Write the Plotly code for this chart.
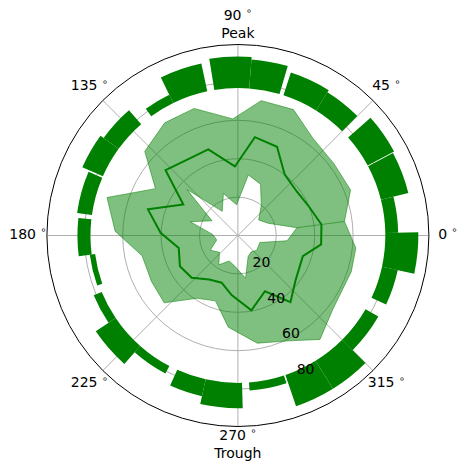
import plotly.graph_objects as go

# ---- bar ring (outer histogram-like bars) ----
bin_start = [1, 14, 28.3, 45, 58, 73.6, 85.6, 102, 116, 131, 144, 156.9, 173.7, 187.4,
             202.5, 214, 228.5, 245.7, 257.4, 274.3, 288.8, 301.8, 315, 335, 347.8]
bin_end = [14, 28, 41.6, 58, 72, 85.6, 99.2, 116, 126, 144, 156.3, 172, 187.4, 199.6,
           214, 228.5, 242.3, 257.4, 271.6, 288.2, 301.8, 315, 330, 347.8, 361]
bar_base = [76.8, 76.8, 76.8, 76.8, 76.8, 76.8, 76.8, 76.8, 76.8, 76.8, 76.8, 76.8, 76.8, 75.0,
            76.8, 76.8, 76.8, 76.8, 76.8, 76.8, 76.8, 76.8, 76.8, 76.8, 76.8]
bar_top = [83.5, 91.5, 92.4, 88.0, 89.3, 92.0, 93.3, 91.6, 81.6, 86.5, 88.5, 84.6, 83.6, 77.8,
           81.3, 89.3, 81.2, 85.8, 90.0, 81.0, 94.0, 94.0, 84.5, 85.2, 94.0]

# ---- band (fill between lower/upper) and mean line ----
phase_deg = [7.5, 22, 36.8, 52.4, 66.2, 80.2, 92.5, 109, 123, 137.9, 150.4, 163.8, 178,
             192, 208, 222.4, 237, 251, 264, 280.2, 295.9, 308.3, 322.3, 342.3, 353.9]
upper = [56, 63.3, 62.5, 64, 71.7, 71.3, 60.8, 70, 70, 65.4, 49.4, 71, 64,
         51, 51, 52, 39, 36, 48, 57, 61, 69, 62.6, 62, 61.8]
lower = [31, 17, 13.5, 20, 29.2, 32, 16, 23.2, 15, 35.7, 15.5, 25.8, 13,
         11.3, 16.3, 13, 18.2, 14, 16, 22.6, 12.2, 11, 12.5, 12, 25.8]
mean = [43.9, 40, 38.3, 40, 50.5, 52, 36, 47.4, 47.5, 50.8, 32.7, 48.8, 40.3,
        31.5, 34.2, 32.6, 27.4, 26, 31.2, 39.6, 32.3, 44.2, 38, 35.5, 43.6]

# ---- axes ----
r_ticks = [20, 40, 60, 80]
r_tick_labels = ["20", "40", "60", "80"]
ang_ticks = [0, 45, 90, 135, 180, 225, 270, 315]
DEG = "\u00a0<sup>∘</sup>"
ang_labels = ["0" + DEG, "45" + DEG, "90" + DEG + "<br>Peak", "135" + DEG,
              "180" + DEG, "225" + DEG, "270" + DEG + "<br>Trough", "315" + DEG]
r_max = 99.5
r_label_angle = 292.5
ang_label_r = 109.4
outer_scale = 1.15   # helper polar frame used only to place the angle labels

GREEN = "rgb(0,128,0)"
FONT = dict(family="DejaVu Sans", size=14, color="black")

# geometry of the main polar frame (figure fractions)
W, H = 466, 471
CX, CY, RAD = 237.9, 235.5, 191.0


def dom(scale):
    r = RAD * scale
    return dict(x=[(CX - r) / W, (CX + r) / W], y=[(H - CY - r) / H, (H - CY + r) / H])


fig = go.Figure()

centers = [(a + b) / 2 for a, b in zip(bin_start, bin_end)]
widths = [b - a for a, b in zip(bin_start, bin_end)]
lengths = [t - b for t, b in zip(bar_top, bar_base)]
fig.add_trace(go.Barpolar(theta=centers, width=widths, r=lengths, base=bar_base,
                          marker=dict(color=GREEN, line=dict(width=0)),
                          showlegend=False, hoverinfo="skip"))

n = len(phase_deg)
poly_theta = phase_deg + [phase_deg[0] + 360, phase_deg[0] + 360] + [phase_deg[i] for i in range(n - 1, -1, -1)]
poly_r = upper + [upper[0], lower[0]] + [lower[i] for i in range(n - 1, -1, -1)]
fig.add_trace(go.Scatterpolar(theta=poly_theta, r=poly_r, mode="lines", fill="toself",
                              fillcolor="rgba(0,128,0,0.5)",
                              line=dict(color="rgba(0,128,0,0.5)", width=1),
                              showlegend=False, hoverinfo="skip"))

fig.add_trace(go.Scatterpolar(theta=phase_deg + [phase_deg[0]], r=mean + [mean[0]], mode="lines",
                              line=dict(color=GREEN, width=2),
                              showlegend=False, hoverinfo="skip"))

# radial tick labels
fig.add_trace(go.Scatterpolar(theta=[r_label_angle] * len(r_ticks), r=r_ticks, mode="text",
                              text=r_tick_labels, textposition="top right",
                              textfont=FONT, showlegend=False, hoverinfo="skip", cliponaxis=False))

# angular tick labels, centred at a fixed distance outside the outer circle
fig.add_trace(go.Scatterpolar(theta=ang_ticks, r=[ang_label_r] * len(ang_ticks), mode="text",
                              text=ang_labels, textposition="middle center", subplot="polar2",
                              textfont=FONT, showlegend=False, hoverinfo="skip", cliponaxis=False))

fig.update_layout(
    width=W, height=H,
    margin=dict(l=0, r=0, t=0, b=0),
    paper_bgcolor="white",
    font=FONT,
    polar=dict(
        domain=dom(1.0),
        bgcolor="white",
        barmode="overlay",
        radialaxis=dict(range=[0, r_max], tickvals=r_ticks, showticklabels=False,
                        showline=False, ticks="", gridcolor="#b0b0b0", gridwidth=0.8,
                        layer="above traces", angle=r_label_angle),
        angularaxis=dict(rotation=0, direction="counterclockwise", tickmode="array",
                         tickvals=ang_ticks, showticklabels=False, ticks="",
                         showline=True, linecolor="black", linewidth=1,
                         gridcolor="#b0b0b0", gridwidth=0.8, layer="above traces"),
    ),
    polar2=dict(
        domain=dom(outer_scale),
        bgcolor="rgba(0,0,0,0)",
        radialaxis=dict(range=[0, r_max * outer_scale], visible=False, showgrid=False),
        angularaxis=dict(rotation=0, direction="counterclockwise", showgrid=False,
                         showline=False, showticklabels=False, ticks=""),
    ),
)

fig.write_html("out.html")
